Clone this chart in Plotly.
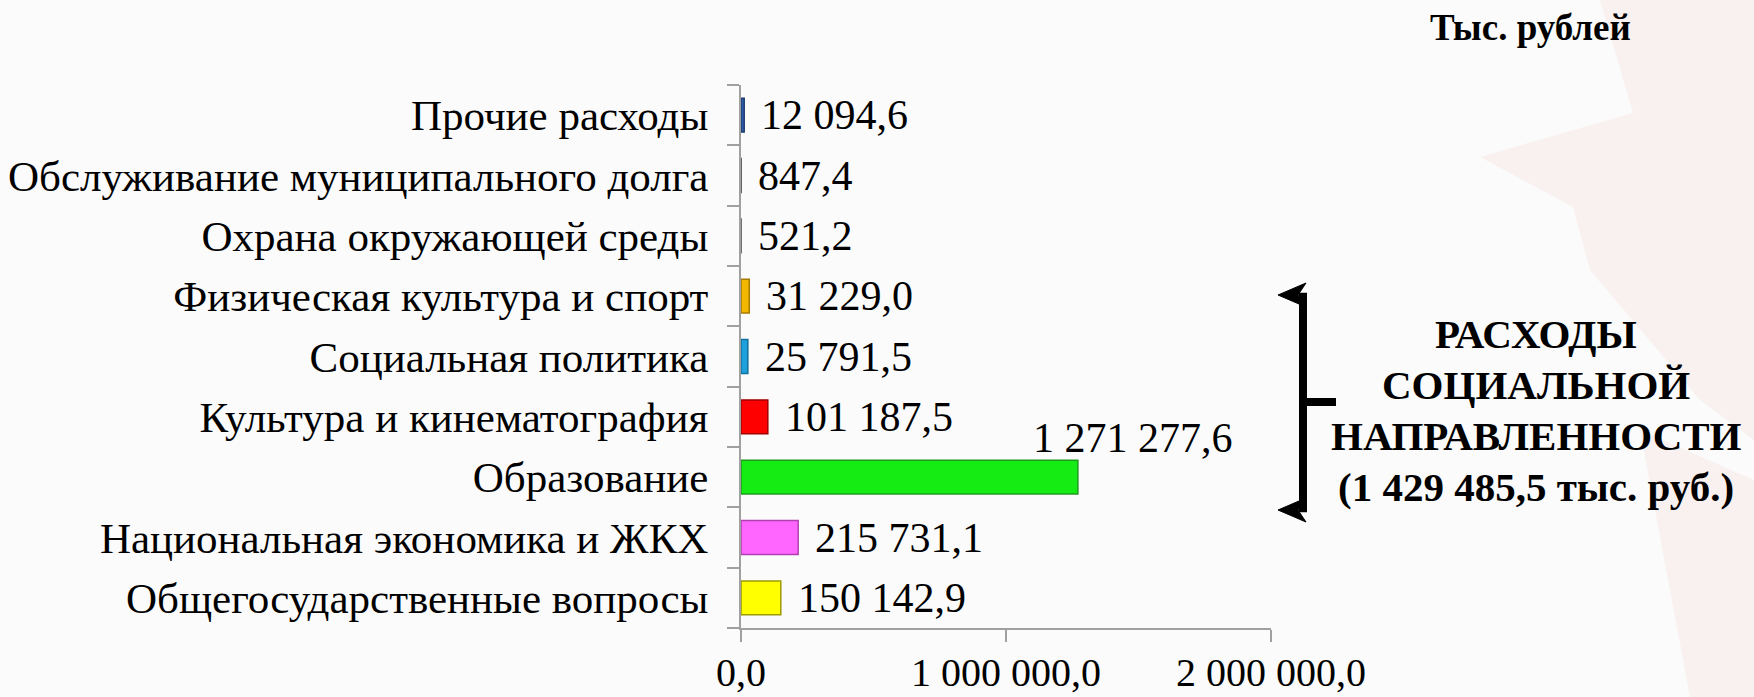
import plotly.graph_objects as go

categories = [
    "Общегосударственные вопросы",
    "Национальная экономика и ЖКХ",
    "Образование",
    "Культура и кинематография",
    "Социальная политика",
    "Физическая культура и спорт",
    "Охрана окружающей среды",
    "Обслуживание муниципального долга",
    "Прочие расходы",
]
values = [150142.9, 215731.1, 1271277.6, 101187.5, 25791.5, 31229.0, 521.2, 847.4, 12094.6]
bar_colors = ["#FFFF00", "#FF66FF", "#14EC14", "#FF0000", "#1EA0DC", "#F2B800", "#8E8E8E", "#8E8E8E", "#2E5FA8"]
edge_colors = ["#9C9C00", "#B040B0", "#1F9A1F", "#A00000", "#10709E", "#A87A00", "#606060", "#606060", "#1C3C70"]
x_tickvals = [0, 1000000, 2000000]
x_ticktext = ["0,0", "1 000 000,0", "2 000 000,0"]
note_lines = ["РАСХОДЫ", "СОЦИАЛЬНОЙ", "НАПРАВЛЕННОСТИ", "(1 429 485,5 тыс. руб.)"]
unit_label = "Тыс. рублей"

W, H = 1754, 697
L, R, T, B = 741, 1271, 85, 628
FONT = "Liberation Serif, Times New Roman, serif"


def fmt(v):
    return f"{v:,.1f}".replace(",", " ").replace(".", ",")


def px(xp, yp):
    return (xp - L) / (R - L), (B - yp) / (B - T)


fig = go.Figure()
fig.add_trace(go.Bar(
    y=categories, x=values, orientation="h",
    marker=dict(color=bar_colors, line=dict(color=edge_colors, width=1.5)),
    hoverinfo="skip",
))

for c, v in zip(categories, values):
    if c == "Образование":
        fig.add_annotation(x=v, y=c, xref="x", yref="y", text=fmt(v), showarrow=False,
                           xanchor="left", xshift=-47, yshift=39,
                           font=dict(family=FONT, size=42, color="#000000"))
    else:
        fig.add_annotation(x=v, y=c, xref="x", yref="y", text=fmt(v), showarrow=False,
                           xanchor="left", xshift=15, yshift=0,
                           font=dict(family=FONT, size=42, color="#000000"))

# faint background decorations
bg_shapes = [
    [(1560, 0), (1754, 0), (1754, 440), (1700, 400), (1590, 270), (1573, 207), (1480, 157), (1633, 113), (1600, 0)],
    [(1640, 430), (1754, 480), (1754, 697), (1690, 697)],
]
for poly in bg_shapes:
    pts = [px(a, b) for a, b in poly]
    path = "M " + " L ".join(f"{a},{b}" for a, b in pts) + " Z"
    fig.add_shape(type="path", path=path, xref="paper", yref="paper",
                  fillcolor="rgba(225,120,120,0.08)", line=dict(width=0), layer="below")

# bracket
bx, btop, bbot, bmid = 1303, 295, 510, 402
x0, y0 = px(bx, btop)
x1, y1 = px(bx, bbot)
fig.add_shape(type="line", xref="paper", yref="paper", x0=x0, y0=y0 + 0.004, x1=x1, y1=y1 - 0.004,
              line=dict(color="#000000", width=8))
mx0, my = px(bx, bmid)
mx1, _ = px(1336, bmid)
fig.add_shape(type="line", xref="paper", yref="paper", x0=mx0, y0=my, x1=mx1, y1=my,
              line=dict(color="#000000", width=8))
for yy in (btop, bbot):
    pts = [px(1278, yy), px(1306, yy - 12), px(1298, yy), px(1306, yy + 12)]
    path = "M " + " L ".join(f"{a},{b}" for a, b in pts) + " Z"
    fig.add_shape(type="path", path=path, xref="paper", yref="paper",
                  fillcolor="#000000", line=dict(color="#000000", width=1))

for i, line in enumerate(note_lines):
    ax, ay = px(1536, 334 + 51 * i)
    fig.add_annotation(x=ax, y=ay, xref="paper", yref="paper", showarrow=False,
                       text=f"<b>{line}</b>", xanchor="center", yanchor="middle",
                       font=dict(family=FONT, size=41, color="#000000"))

tx, ty = px(1530, 28)
fig.add_annotation(x=tx, y=ty, xref="paper", yref="paper", showarrow=False,
                   text=f"<b>{unit_label}</b>", xanchor="center", yanchor="middle",
                   font=dict(family=FONT, size=37, color="#000000"))

fig.update_layout(
    width=W, height=H,
    margin=dict(l=L, r=W - R, t=T, b=H - B, pad=0),
    paper_bgcolor="#FBFBFB", plot_bgcolor="rgba(0,0,0,0)",
    bargap=0.44, showlegend=False,
    font=dict(family=FONT, size=42, color="#000000"),
)
fig.update_xaxes(range=[0, 2000000], tickvals=x_tickvals, ticktext=x_ticktext, automargin=False,
                 showgrid=False, zeroline=False, showline=True, linecolor="#A0A0A0", linewidth=2,
                 ticks="outside", ticklen=12, tickwidth=2, tickcolor="#A0A0A0",
                 ticklabelstandoff=-4, tickfont=dict(family=FONT, size=40, color="#000000"))
fig.update_yaxes(type="category", categoryorder="array", categoryarray=categories, automargin=False,
                 showgrid=False, zeroline=False, showline=True, linecolor="#A0A0A0", linewidth=2,
                 ticks="outside", ticklen=12, tickwidth=2, tickcolor="#A0A0A0", tickson="boundaries",
                 ticklabelstandoff=22, tickfont=dict(family=FONT, size=43, color="#000000"))

fig.write_html(
    "out.html",
    config={"displayModeBar": False},
    post_script="document.body.style.margin='0';document.body.style.overflow='hidden';",
)
